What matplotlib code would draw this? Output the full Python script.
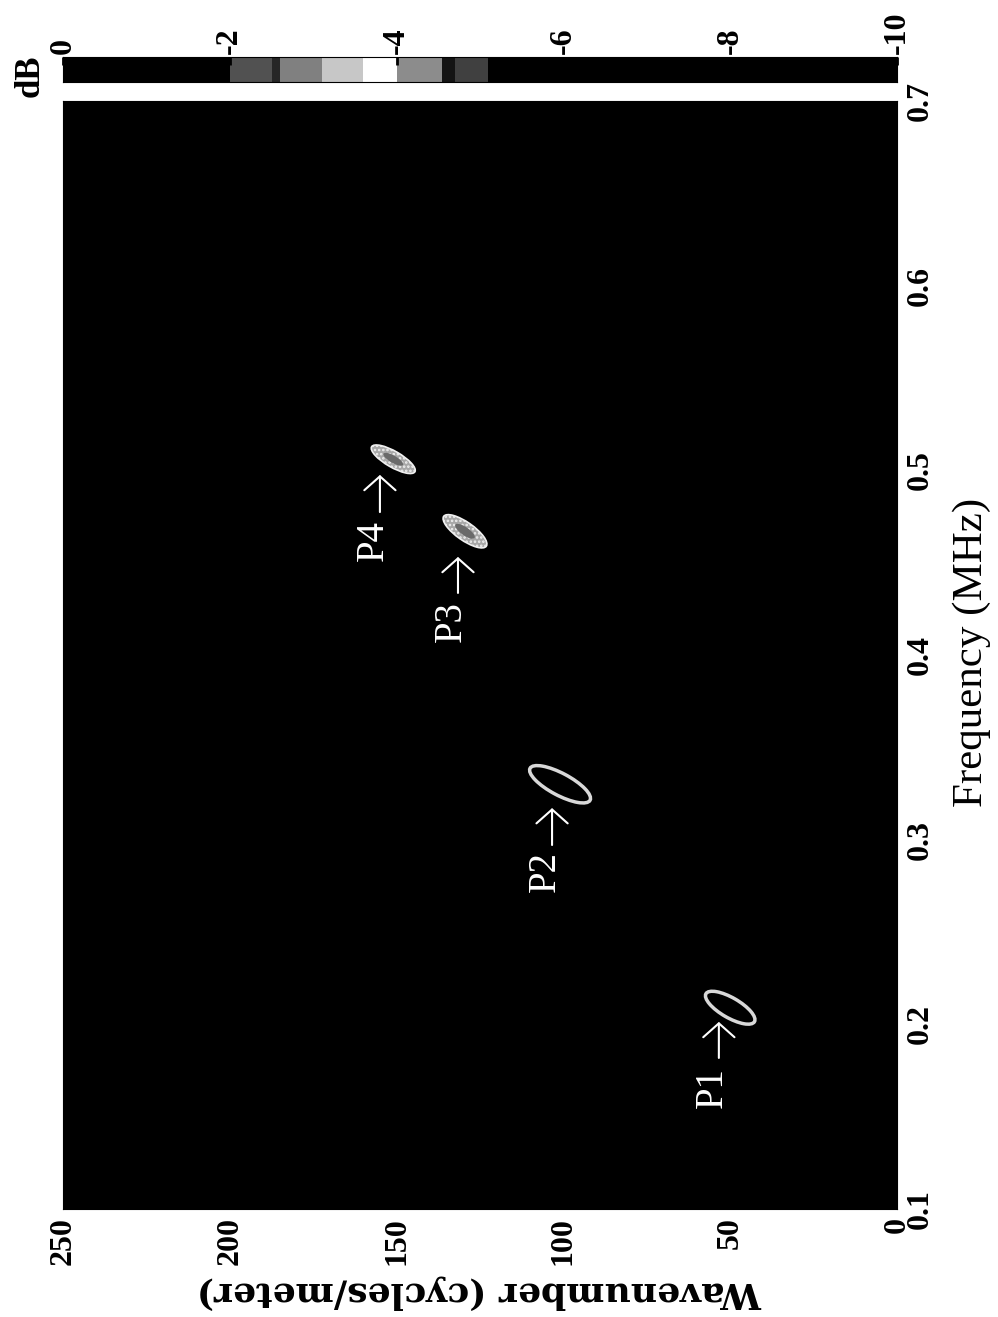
import numpy as np
import matplotlib.pyplot as plt
from matplotlib.patches import Ellipse
from matplotlib.transforms import ScaledTranslation

# spectral peaks (wavenumber in cycles/m, frequency in MHz)
peak_names = ['P1', 'P2', 'P3', 'P4']
peak_wavenumber = [50.0, 101.0, 129.5, 151.0]
peak_freq = [0.209, 0.330, 0.467, 0.506]
peak_hollow = [True, True, False, False]

# label text centres, and the arrows under each peak (tail -> tip)
label_wn = [55.2, 105.5, 133.7, 157.1]
label_freq = [0.166, 0.283, 0.418, 0.462]
arrow_wn = [53.4, 103.4, 131.6, 155.0]
arrow_tail_freq = [0.1818, 0.2971, 0.4336, 0.4774]
arrow_tip_freq = [0.2013, 0.3171, 0.4531, 0.4975]

wn_ticks = [250, 200, 150, 100, 50, 0]
freq_ticks = [0.1, 0.2, 0.3, 0.4, 0.5, 0.6, 0.7]
db_ticks = [0, -2, -4, -6, -8, -10]

# grey bands seen on the dB colour bar
cb_edges = [0, -2.0, -2.5, -2.6, -3.1, -3.6, -4.0, -4.55, -4.7, -5.1, -10]
cb_grey = [0.0, 0.32, 0.15, 0.5, 0.78, 1.0, 0.55, 0.08, 0.25, 0.0]

# blob shape on screen (inches, degrees)
blob_len = [0.56, 0.68, 0.52, 0.50]
blob_wid = [0.20, 0.22, 0.18, 0.16]
blob_tilt = [-30, -28, -35, -30]

W, H = 998, 1317
fig = plt.figure(figsize=(W / 100, H / 100), dpi=100)

tick_font = dict(family='Liberation Serif', weight='bold', size=23)

# main spectrum panel (drawn rotated: wavenumber runs right-to-left along the bottom)
ax = fig.add_axes([63 / W, 1 - 1209 / H, 834 / W, 1108 / H])
ax.set_facecolor('black')
ax.set_xlim(250, 0)
ax.set_ylim(0.1, 0.7)
ax.set_xticks(wn_ticks)
ax.set_xticklabels([str(t) for t in wn_ticks], rotation=90, va='top', **tick_font)
ax.yaxis.tick_right()
ax.set_yticks(freq_ticks)
ax.set_yticklabels([f'{t:.1f}' for t in freq_ticks], rotation=90, va='center', **tick_font)
ax.tick_params(length=0, pad=6)

plt.rcParams['hatch.linewidth'] = 1.2
for i in range(len(peak_names)):
    trans = fig.dpi_scale_trans + ScaledTranslation(peak_wavenumber[i], peak_freq[i], ax.transData)
    if peak_hollow[i]:
        ax.add_patch(Ellipse((0, 0), blob_len[i], blob_wid[i], angle=blob_tilt[i],
                             transform=trans, fc='none', ec='#d8d8d8', lw=2.5))
    else:
        ax.add_patch(Ellipse((0, 0), blob_len[i], blob_wid[i], angle=blob_tilt[i],
                             transform=trans, fc='#a8a8a8', ec='#f0f0f0', lw=1.2, hatch='....'))
        ax.add_patch(Ellipse((0, 0), blob_len[i] * 0.45, blob_wid[i] * 0.45, angle=blob_tilt[i],
                             transform=trans, fc='#6a6a6a', ec='none'))
    ax.text(label_wn[i], label_freq[i], peak_names[i], rotation=90, ha='center', va='center',
            color='white', fontsize=28, family='Liberation Serif')
    ax.annotate('', xy=(arrow_wn[i], arrow_tip_freq[i]), xytext=(arrow_wn[i], arrow_tail_freq[i]),
                arrowprops=dict(arrowstyle='->, head_length=0.4, head_width=0.45', color='white',
                                lw=1.5, shrinkA=0, shrinkB=0, mutation_scale=25))

# dB colour bar on top
cax = fig.add_axes([63 / W, 1 - 82 / H, 834 / W, 25 / H])
cax.pcolormesh(cb_edges, [0, 1], [cb_grey], cmap='gray', vmin=0, vmax=1)
cax.set_xlim(0, -10)
cax.set_ylim(0, 1)
cax.set_yticks([])
cax.xaxis.tick_top()
cax.set_xticks(db_ticks)
cax.set_xticklabels([str(t) for t in db_ticks], rotation=90, va='bottom', **tick_font)
cax.tick_params(direction='in', length=6, width=2, pad=2, color='black')

fig.text(47 / W, 1 - 76 / H, 'dB', rotation=90, ha='right', va='center',
         family='Liberation Serif', weight='bold', size=25)
fig.text(972 / W, 1 - 652 / H, 'Frequency (MHz)', rotation=90, ha='center', va='center',
         family='Liberation Serif', size=31)
fig.text(480 / W, 1 - 1292 / H, 'Wavenumber (cycles/meter)', rotation=180, ha='center',
         va='center', family='DejaVu Serif', weight='bold', size=26)

fig.savefig('out.png', dpi=100, facecolor='white')
